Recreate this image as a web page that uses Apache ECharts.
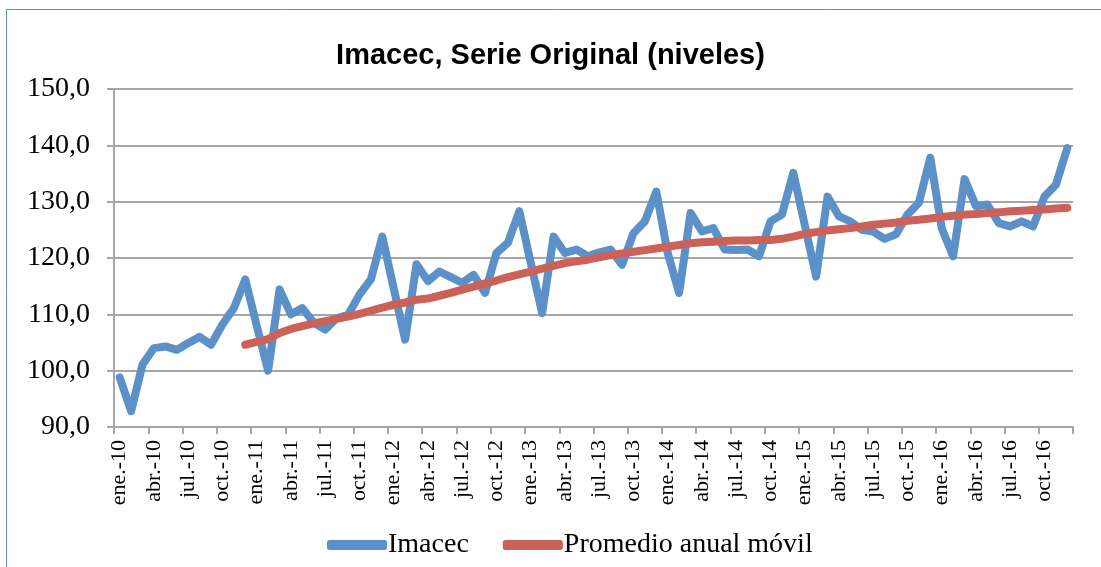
<!DOCTYPE html>
<html>
<head>
<meta charset="utf-8">
<script src="https://cdn.jsdelivr.net/npm/echarts@6/dist/echarts.min.js"></script>
<style>
  html, body { margin: 0; padding: 0; background: #fff; }
  #chart { width: 1101px; height: 567px; }
</style>
</head>
<body>
<div id="chart"></div>
<script>
  // meses ene-10 .. dic-16
  const monthNames = ['ene.', 'feb.', 'mar.', 'abr.', 'may.', 'jun.', 'jul.', 'ago.', 'sept.', 'oct.', 'nov.', 'dic.']
  const years = ['10', '11', '12', '13', '14', '15', '16']

  const imacec = [
    98.8, 92.8, 101.1, 104.0, 104.3, 103.7, 104.9, 106.0, 104.6, 108.2, 111.1, 116.2,
    108.0, 100.0, 114.4, 110.0, 111.1, 108.5, 107.3, 109.3, 109.9, 113.5, 116.2, 123.8,
    114.6, 105.5, 118.9, 115.9, 117.6, 116.6, 115.6, 117.0, 113.8, 120.9, 122.7, 128.3,
    119.2, 110.2, 123.8, 120.9, 121.5, 120.3, 121.0, 121.5, 118.8, 124.4, 126.5, 131.8,
    120.9, 113.8, 128.0, 124.7, 125.3, 121.5, 121.4, 121.5, 120.3, 126.5, 127.7, 135.1,
    125.9, 116.7, 130.9, 127.4, 126.5, 125.0, 124.7, 123.4, 124.2, 127.7, 129.8, 137.8,
    125.3, 120.3, 134.0, 129.2, 129.5, 126.2, 125.6, 126.5, 125.6, 130.9, 133.0, 139.5
  ]

  const promedio = [
    null, null, null, null, null, null, null, null, null, null, null, 104.6,
    105.1, 105.6, 106.7, 107.4, 107.9, 108.4, 108.8, 109.2, 109.6, 110.1, 110.6, 111.2,
    111.7, 112.1, 112.6, 112.8, 113.3, 113.8, 114.4, 114.9, 115.5, 116.0, 116.6, 117.1,
    117.6, 118.1, 118.6, 119.1, 119.4, 119.7, 120.1, 120.5, 120.8, 121.1, 121.4, 121.7,
    122.0, 122.3, 122.6, 122.8, 122.9, 123.0, 123.1, 123.1, 123.2, 123.2, 123.4, 123.8,
    124.3, 124.6, 124.9, 125.1, 125.3, 125.6, 125.9, 126.1, 126.3, 126.6, 126.8, 127.0,
    127.3, 127.5, 127.7, 127.8, 128.0, 128.1, 128.3, 128.4, 128.5, 128.6, 128.8, 128.9
  ]

  const categories = []
  years.forEach(y => monthNames.forEach(m => categories.push(m + '-' + y)))

  const serif = '"Liberation Serif", "Times New Roman", serif'
  const gridColor = '#A6A6A6'

  const chart = echarts.init(document.getElementById('chart'))
  chart.setOption({
    animation: false,
    title: {
      text: 'Imacec, Serie Original (niveles)',
      left: 'center',
      top: 36,
      textStyle: {
        fontFamily: '"Liberation Sans", Arial, sans-serif',
        fontWeight: 'bold',
        fontSize: 29,
        color: '#000'
      }
    },
    graphic: [{
      type: 'rect',
      shape: { x: 6.5, y: 9.5, width: 2000, height: 2000 },
      style: { fill: 'none', stroke: '#5B8FD0', lineWidth: 1 },
      silent: true
    }],
    legend: {
      bottom: 3,
      left: 322,
      itemWidth: 60,
      itemHeight: 10,
      itemGap: 34,
      icon: 'roundRect',
      textStyle: { fontFamily: serif, fontSize: 28, color: '#000', padding: [0, 0, 0, -4] },
      data: ['Imacec', 'Promedio anual móvil']
    },
    grid: { left: 114, right: 28, top: 89, bottom: 140 },
    xAxis: {
      type: 'category',
      data: categories,
      boundaryGap: true,
      axisLine: { lineStyle: { color: gridColor, width: 2 } },
      axisTick: { show: true, interval: 2, length: 7, lineStyle: { color: gridColor, width: 2 } },
      axisLabel: {
        interval: 2,
        rotate: 90,
        margin: 13,
        fontFamily: serif,
        fontSize: 22,
        color: '#000'
      },
      splitLine: { show: false }
    },
    yAxis: {
      type: 'value',
      min: 90,
      max: 150,
      interval: 10,
      axisLine: { show: true, lineStyle: { color: gridColor, width: 2 } },
      axisTick: { show: true, length: 7, lineStyle: { color: gridColor, width: 2 } },
      axisLabel: {
        margin: 24,
        fontFamily: serif,
        fontSize: 28,
        color: '#000',
        formatter: v => v.toFixed(1).replace('.', ',')
      },
      splitLine: { lineStyle: { color: gridColor, width: 2 } }
    },
    series: [
      {
        name: 'Imacec',
        type: 'line',
        data: imacec,
        symbol: 'none',
        lineStyle: { color: '#5B91C8', width: 8, cap: 'round', join: 'round' },
        itemStyle: { color: '#5B91C8' }
      },
      {
        name: 'Promedio anual móvil',
        type: 'line',
        data: promedio,
        symbol: 'none',
        lineStyle: { color: '#CC6159', width: 8, cap: 'round', join: 'round' },
        itemStyle: { color: '#CC6159' }
      }
    ]
  })
</script>
</body>
</html>
